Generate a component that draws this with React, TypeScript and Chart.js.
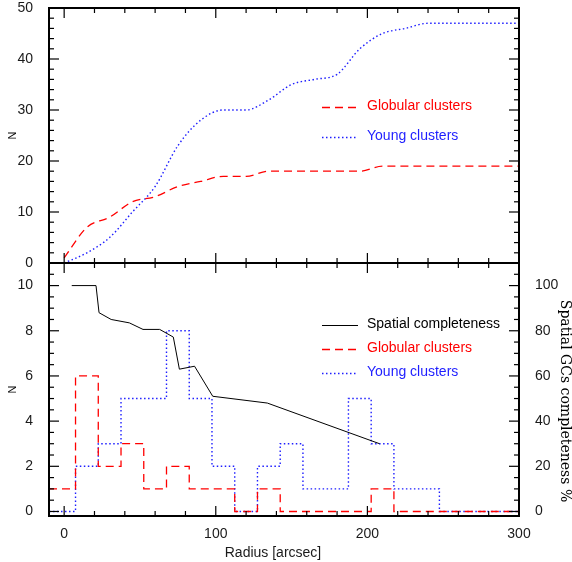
import React, { useEffect, useRef } from 'react';
import { Chart, registerables } from 'chart.js';

Chart.register(...registerables);

// ---------- data ----------
const radiusCenters = [0, 15, 30, 45, 60, 75, 90, 105, 120, 135, 150, 165, 180, 195, 210, 225, 240, 255, 270, 285, 300];
const gcCumulative = [1, 7, 9, 12, 13, 15, 16, 17, 17, 18, 18, 18, 18, 18, 19, 19, 19, 19, 19, 19, 19];
const ycCumulative = [0, 2, 5, 10, 15, 23, 28, 30, 30, 32, 35, 36, 37, 42, 45, 46, 47, 47, 47, 47, 47];
const gcCounts = [1, 6, 2, 3, 1, 2, 1, 1, 0, 1, 0, 0, 0, 0, 1, 0, 0, 0, 0, 0, 0];
const ycCounts = [0, 2, 3, 5, 5, 8, 5, 2, 0, 2, 3, 1, 1, 5, 3, 1, 1, 0, 0, 0, 0];
const complRadius = [5, 21, 23, 31, 43, 52, 63, 72, 76, 86, 98, 134, 208];
const complPercent = [100, 100, 88, 85, 83.5, 80.6, 80.6, 77.2, 63, 64.3, 51, 48, 30];

const xTickValues = [0, 100, 200, 300];
const yTopTickValues = [0, 10, 20, 30, 40, 50];
const yBottomTickValues = [0, 2, 4, 6, 8, 10];
const yRightTickValues = [0, 20, 40, 60, 80, 100];

const BIN_WIDTH = 15;
const X_MIN = -10;
const X_MAX = 300;

const W = 572;
const H = 562;
const TOP_SHIFT = 20; // top canvas is lifted so its chart area can start near the page top
const SANS = '"Liberation Sans", Arial, Helvetica, sans-serif';

const RED = 'rgb(255,0,0)';
const BLUE = 'rgb(30,30,255)';
const BLACK = '#000';

function histSteps(centers: number[], counts: number[]) {
  const pts = counts.map((c, i) => ({ x: i === 0 ? X_MIN : centers[i] - BIN_WIDTH / 2, y: c }));
  pts.push({ x: centers[centers.length - 1] + BIN_WIDTH / 2, y: counts[counts.length - 1] });
  return pts;
}

// ---------- plugins ----------
const frameTicks = {
  id: 'frameTicks',
  afterDatasetsDraw(chart: any, _args: any, opts: any) {
    const { ctx, chartArea: a } = chart;
    const xs = chart.scales.x;
    const yl = chart.scales[opts.left.id];
    const yr = chart.scales[opts.right.id];
    ctx.save();
    ctx.strokeStyle = '#000';
    ctx.lineWidth = 1.2;
    const line = (x1: number, y1: number, x2: number, y2: number) => {
      ctx.beginPath();
      ctx.moveTo(x1, y1);
      ctx.lineTo(x2, y2);
      ctx.stroke();
    };
    const isMajor = (v: number, major: number) => Math.abs(v / major - Math.round(v / major)) < 1e-6;
    const each = (scale: any, cfg: any, fn: (p: number, len: number) => void) => {
      const start = Math.ceil((scale.min - 1e-9) / cfg.minor) * cfg.minor;
      for (let v = start; v <= scale.max + 1e-9; v += cfg.minor) {
        fn(scale.getPixelForValue(v), isMajor(v, cfg.major) ? 10 : 5);
      }
    };
    each(xs, opts.x, (p, len) => {
      line(p, a.bottom, p, a.bottom - len);
      line(p, a.top, p, a.top + len);
    });
    each(yl, opts.left, (p, len) => line(a.left, p, a.left + len, p));
    each(yr, opts.right, (p, len) => line(a.right, p, a.right - len, p));
    ctx.lineWidth = 2;
    ctx.strokeRect(a.left, a.top, a.right - a.left, a.bottom - a.top);
    ctx.restore();
  },
};

const insetLegend = {
  id: 'insetLegend',
  afterDatasetsDraw(chart: any, _args: any, opts: any) {
    const { ctx } = chart;
    ctx.save();
    for (const item of opts.items) {
      const ds = chart.data.datasets[item.datasetIndex];
      ctx.beginPath();
      ctx.strokeStyle = ds.borderColor;
      ctx.lineWidth = ds.borderWidth;
      ctx.setLineDash(ds.borderDash || []);
      ctx.moveTo(opts.x1, item.y);
      ctx.lineTo(opts.x2, item.y);
      ctx.stroke();
      ctx.setLineDash([]);
      ctx.fillStyle = ds.borderColor;
      ctx.font = opts.font;
      ctx.textAlign = 'left';
      ctx.textBaseline = 'middle';
      ctx.fillText(ds.label, opts.textX, item.y - 1.5);
    }
    ctx.restore();
  },
};

const extraText = {
  id: 'extraText',
  afterDraw(chart: any, _args: any, opts: any) {
    const { ctx } = chart;
    for (const t of opts.items || []) {
      ctx.save();
      ctx.translate(t.x, t.y);
      ctx.rotate(t.rotation || 0);
      ctx.font = t.font;
      ctx.fillStyle = t.color || '#000';
      ctx.textAlign = 'center';
      ctx.textBaseline = 'middle';
      ctx.fillText(t.text, 0, 0);
      ctx.restore();
    }
  },
};

const tickFont = { family: SANS, size: 14, lineHeight: 1 };
const tickColor = '#1a1a1a';

export default function App() {
  const topRef = useRef<HTMLCanvasElement>(null);
  const botRef = useRef<HTMLCanvasElement>(null);

  useEffect(() => {
    const top = new Chart(topRef.current as HTMLCanvasElement, {
      type: 'line',
      data: {
        datasets: [
          {
            label: 'Globular clusters',
            data: radiusCenters.map((x, i) => ({ x, y: gcCumulative[i] })),
            borderColor: RED,
            borderWidth: 1.3,
            borderDash: [8, 5],
            pointRadius: 0,
            cubicInterpolationMode: 'monotone',
            fill: false,
          },
          {
            label: 'Young clusters',
            data: radiusCenters.map((x, i) => ({ x, y: ycCumulative[i] })),
            borderColor: BLUE,
            borderWidth: 1.4,
            borderDash: [1.5, 2.5],
            pointRadius: 0,
            cubicInterpolationMode: 'monotone',
            fill: false,
          },
        ],
      },
      options: {
        animation: false,
        responsive: false,
        devicePixelRatio: 1,
        layout: { autoPadding: false, padding: { left: 0, top: 8 + TOP_SHIFT, right: 53, bottom: H - 263 - TOP_SHIFT } },
        scales: {
          x: { type: 'linear', min: X_MIN, max: X_MAX, display: false },
          y: {
            type: 'linear',
            position: 'left',
            min: 0,
            max: 50,
            afterBuildTicks: (s: any) => { s.ticks = yTopTickValues.map((v) => ({ value: v })); },
            afterFit: (s: any) => { s.width = 49; },
            grid: { display: false },
            border: { display: false },
            ticks: { font: tickFont, color: tickColor, padding: 8 },
            title: { display: true, text: 'N', color: '#000', font: { family: SANS, size: 11 }, padding: { top: 6, bottom: 0 } },
          },
        },
        plugins: {
          legend: { display: false },
          tooltip: { enabled: false },
          frameTicks: { x: { major: 100, minor: 20 }, left: { id: 'y', major: 10, minor: 2 }, right: { id: 'y', major: 10, minor: 2 } },
          insetLegend: {
            x1: 322, x2: 358, textX: 367, font: `14px ${SANS}`,
            items: [ { datasetIndex: 0, y: 107.5 + TOP_SHIFT }, { datasetIndex: 1, y: 137.5 + TOP_SHIFT } ],
          },
        } as any,
      },
      plugins: [frameTicks, insetLegend],
    } as any);

    const bot = new Chart(botRef.current as HTMLCanvasElement, {
      type: 'line',
      data: {
        datasets: [
          {
            label: 'Spatial completeness',
            data: complRadius.map((x, i) => ({ x, y: complPercent[i] })),
            yAxisID: 'y2',
            borderColor: BLACK,
            borderWidth: 1,
            pointRadius: 0,
            tension: 0,
            fill: false,
          },
          {
            label: 'Globular clusters',
            data: histSteps(radiusCenters, gcCounts),
            yAxisID: 'y',
            borderColor: RED,
            borderWidth: 1.3,
            borderDash: [8, 5],
            pointRadius: 0,
            stepped: true,
            fill: false,
          },
          {
            label: 'Young clusters',
            data: histSteps(radiusCenters, ycCounts),
            yAxisID: 'y',
            borderColor: BLUE,
            borderWidth: 1.4,
            borderDash: [1.5, 2.5],
            pointRadius: 0,
            stepped: true,
            fill: false,
          },
        ],
      },
      options: {
        animation: false,
        responsive: false,
        devicePixelRatio: 1,
        layout: { autoPadding: false, padding: { left: 0, top: 263, right: 0, bottom: 0 } },
        scales: {
          x: {
            type: 'linear',
            position: 'bottom',
            min: X_MIN,
            max: X_MAX,
            afterBuildTicks: (s: any) => { s.ticks = xTickValues.map((v) => ({ value: v })); },
            afterFit: (s: any) => { s.height = 46; },
            grid: { display: false },
            border: { display: false },
            ticks: { font: tickFont, color: tickColor, padding: 3, maxRotation: 0 },
          },
          y: {
            type: 'linear',
            position: 'left',
            min: -0.2,
            max: 11,
            afterBuildTicks: (s: any) => { s.ticks = yBottomTickValues.map((v) => ({ value: v })); },
            afterFit: (s: any) => { s.width = 49; },
            grid: { display: false },
            border: { display: false },
            ticks: { font: tickFont, color: tickColor, padding: 8 },
            title: { display: true, text: 'N', color: '#000', font: { family: SANS, size: 11 }, padding: { top: 6, bottom: 0 } },
          },
          y2: {
            type: 'linear',
            position: 'right',
            min: -2,
            max: 110,
            afterBuildTicks: (s: any) => { s.ticks = yRightTickValues.map((v) => ({ value: v })); },
            afterFit: (s: any) => { s.width = 53; },
            grid: { display: false },
            border: { display: false },
            ticks: { font: tickFont, color: tickColor, padding: 8 },
          },
        },
        plugins: {
          legend: { display: false },
          tooltip: { enabled: false },
          frameTicks: { x: { major: 100, minor: 20 }, left: { id: 'y', major: 2, minor: 0.5 }, right: { id: 'y2', major: 20, minor: 5 } },
          insetLegend: {
            x1: 322, x2: 358, textX: 367, font: `14px ${SANS}`,
            items: [ { datasetIndex: 0, y: 325.5 }, { datasetIndex: 1, y: 349.5 }, { datasetIndex: 2, y: 373.5 } ],
          },
          extraText: {
            items: [
              { text: 'Radius [arcsec]', x: 273, y: 553, font: `14px ${SANS}`, color: '#1a1a1a' },
              { text: 'Spatial GCs completeness %', x: 565, y: 401, rotation: Math.PI / 2, font: '14px "DejaVu Serif", serif', color: '#000' },
            ],
          },
        } as any,
      },
      plugins: [frameTicks, insetLegend, extraText],
    } as any);

    return () => {
      top.destroy();
      bot.destroy();
    };
  }, []);

  const topStyle: React.CSSProperties = { position: 'absolute', left: 0, top: -TOP_SHIFT, width: W, height: H };
  const botStyle: React.CSSProperties = { position: 'absolute', left: 0, top: 0, width: W, height: H };
  return (
    <div style={{ position: 'absolute', left: 0, top: 0, width: W, height: H, background: '#fff', overflow: 'hidden' }}>
      <canvas ref={topRef} width={W} height={H} style={topStyle} />
      <canvas ref={botRef} width={W} height={H} style={botStyle} />
    </div>
  );
}
